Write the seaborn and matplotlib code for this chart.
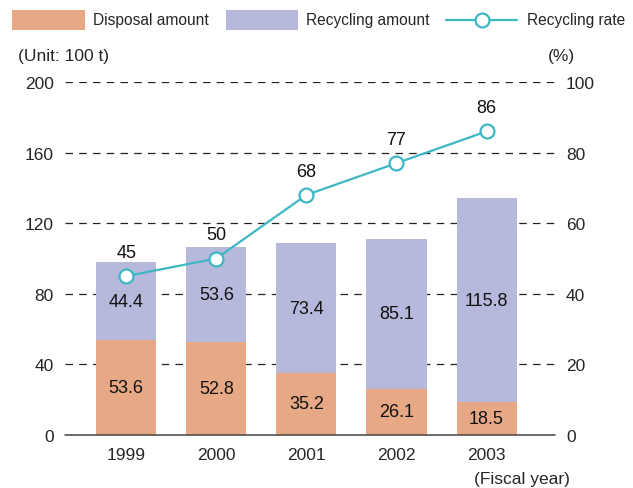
import numpy as np
import pandas as pd
import matplotlib
matplotlib.use("Agg")
import matplotlib.pyplot as plt
import seaborn as sns
from matplotlib.patches import Rectangle
from matplotlib.lines import Line2D

years = ["1999", "2000", "2001", "2002", "2003"]
disposal = [53.6, 52.8, 35.2, 26.1, 18.5]
recycling = [44.4, 53.6, 73.4, 85.1, 115.8]
rate = [45, 50, 68, 77, 86]
left_ticks = [0, 40, 80, 120, 160, 200]
right_ticks = [0, 20, 40, 60, 80, 100]
legend_labels = ["Disposal amount", "Recycling amount", "Recycling rate"]

c_disp = "#E7A886"
c_rec = "#B6B9DB"
c_line = "#3DB7C4"

sns.set_style("white")
plt.rcParams["font.family"] = ["Liberation Sans", "DejaVu Sans"]

W, H = 633, 489
fig = plt.figure(figsize=(6.33, 4.89), dpi=100)
ax = fig.add_axes([65/W, 1-436/H, (555-65)/W, (436-83)/H])

df = pd.DataFrame({"year": years, "disposal": disposal, "recycling": recycling})
df["total"] = df["disposal"] + df["recycling"]

sns.barplot(data=df, x="year", y="total", color=c_rec, width=0.667,
            saturation=1, ax=ax, zorder=2, linewidth=0, edgecolor="none")
sns.barplot(data=df, x="year", y="disposal", color=c_disp, width=0.667,
            saturation=1, ax=ax, zorder=2, linewidth=0, edgecolor="none")

ax.set_ylim(0, 200)
ax.set_xlim(-0.68, 4.76)
ax.set_yticks(left_ticks)
ax.set_yticklabels([str(t) for t in left_ticks], fontsize=12.5)
ax.set_xlabel("")
ax.set_ylabel("")
ax.tick_params(axis="both", length=0, labelsize=12.5)
ax.tick_params(axis="x", pad=9)
ax.tick_params(axis="y", pad=8)
for s in ax.spines.values():
    s.set_visible(False)
for t in left_ticks[1:]:
    ax.axhline(t, color="#222222", lw=0.9, ls=(0, (6, 5)), zorder=1)
ax.axhline(0, color="#444444", lw=1.1, zorder=3, clip_on=False)

for i in range(len(years)):
    ax.text(i, disposal[i] / 2, f"{disposal[i]:.1f}", ha="center", va="center",
            fontsize=13, color="#111111", zorder=5)
    ax.text(i, disposal[i] + recycling[i] / 2, f"{recycling[i]:.1f}", ha="center",
            va="center", fontsize=13, color="#111111", zorder=5)

ax2 = ax.twinx()
sns.lineplot(x=np.arange(len(years)), y=rate, ax=ax2, color=c_line, lw=1.6,
             marker="o", markersize=10, markerfacecolor="white",
             markeredgecolor=c_line, markeredgewidth=1.6, zorder=6)
ax2.set_ylim(0, 100)
ax2.set_xlim(-0.68, 4.76)
ax2.set_yticks(right_ticks)
ax2.set_yticklabels([str(t) for t in right_ticks], fontsize=12.5)
ax2.tick_params(axis="y", length=0, pad=8, labelsize=12.5)
ax2.set_ylabel("")
for s in ax2.spines.values():
    s.set_visible(False)
for i, r in enumerate(rate):
    ax2.annotate(str(r), (i, r), xytext=(0, 11), textcoords="offset points",
                 ha="center", va="bottom", fontsize=13, color="#111111")

fig.text(18/W, 1-56/H, "(Unit: 100 t)", ha="left", va="center", fontsize=12.5)
fig.text(575/W, 1-56/H, "(%)", ha="right", va="center", fontsize=12.5)
fig.text(570/W, 1-480/H, "(Fiscal year)", ha="right", va="center", fontsize=12.5)

# legend (figure coordinates)
ly = 1 - 21/H
ph = 20/H
fig.patches.append(Rectangle((12/W, ly - ph/2), 73/W, ph, transform=fig.transFigure,
                             facecolor=c_disp, edgecolor="none"))
fig.text(93/W, ly, legend_labels[0], ha="left", va="center", fontsize=11.2)
fig.patches.append(Rectangle((226/W, ly - ph/2), 72/W, ph, transform=fig.transFigure,
                             facecolor=c_rec, edgecolor="none"))
fig.text(306/W, ly, legend_labels[1], ha="left", va="center", fontsize=11.2)
fig.lines.append(Line2D([446/W, 517/W], [ly, ly], transform=fig.transFigure,
                        color=c_line, lw=1.6))
fig.lines.append(Line2D([482/W], [ly], transform=fig.transFigure, color=c_line,
                        marker="o", markersize=10, markerfacecolor="white",
                        markeredgecolor=c_line, markeredgewidth=1.6))
fig.text(527/W, ly, legend_labels[2], ha="left", va="center", fontsize=11.2)

fig.savefig("out.png", dpi=100)
